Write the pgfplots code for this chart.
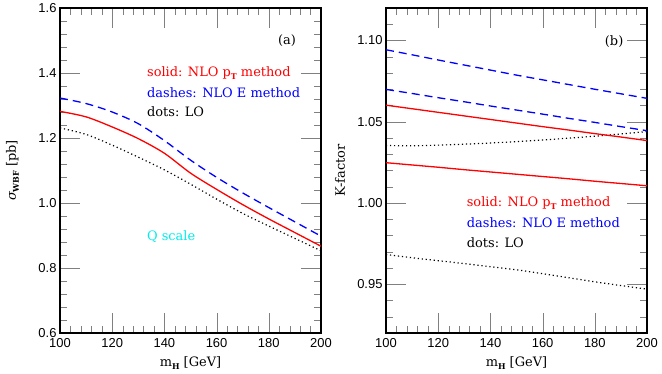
\documentclass[border=0pt]{standalone}
\usepackage{fontspec}
\setmainfont{DejaVu Serif}
\newfontfamily\tickfont{Liberation Sans}
\usepackage{pgfplots}
\usepackage{pgfplotstable}
\pgfplotsset{compat=1.18}
\definecolor{qcyan}{RGB}{0,235,235}
\newcommand\sub[1]{\raisebox{-0.45ex}{\fontsize{8}{8}\selectfont\bfseries #1}}

% sigma_WBF (pb), Q scale
\pgfplotstableread{
m     nlo    e      lo
100   1.282  1.323  1.231
110   1.265  1.306  1.211
120   1.234  1.280  1.178
130   1.198  1.244  1.141
140   1.153  1.192  1.102
150   1.092  1.132  1.058
160   1.042  1.079  1.012
170   0.995  1.031  0.968
180   0.951  0.986  0.929
190   0.909  0.942  0.891
200   0.867  0.898  0.853
}\sigtab

% K-factors, two scale choices each
\pgfplotstableread{
m     nloA   nloB   eA     eB     loA    loB
100   1.0602 1.0248 1.0943 1.0699 1.0354 0.9683
110   1.0580 1.0234 1.0912 1.0674 1.0352 0.9663
120   1.0558 1.0220 1.0880 1.0648 1.0356 0.9645
130   1.0536 1.0205 1.0849 1.0623 1.0362 0.9627
140   1.0514 1.0191 1.0818 1.0597 1.0369 0.9608
150   1.0492 1.0177 1.0787 1.0572 1.0378 0.9589
160   1.0470 1.0163 1.0758 1.0547 1.0388 0.9565
170   1.0449 1.0149 1.0729 1.0521 1.0399 0.9540
180   1.0427 1.0134 1.0700 1.0496 1.0411 0.9515
190   1.0406 1.0120 1.0672 1.0470 1.0425 0.9492
200   1.0384 1.0106 1.0644 1.0445 1.0440 0.9470
}\ktab

\pgfplotsset{
  panel/.style={
    scale only axis, width=261bp, height=325bp,
    xmin=100, xmax=200,
    xtick={100,120,140,160,180,200},
    xticklabels={100,120,140,160,180,200},
    minor x tick num=4,
    xtick pos=both, ytick pos=both,
    major tick length=20bp, minor tick length=7bp,
    axis line style={line width=1.2bp},
    tick label style={font=\fontsize{13}{13}\selectfont\tickfont},
    xticklabel style={yshift=-2bp},
    label style={font=\fontsize{13}{13}\selectfont},
    xlabel={m\sub{H} [GeV]},
    xlabel style={at={(axis description cs:0.5,-0.094)},anchor=center},
  },
  nlo/.style={red,line width=1.3bp,smooth},
  ee/.style={blue,line width=1.3bp,smooth,dash pattern=on 8bp off 5bp},
  lo/.style={black,line width=1.2bp,smooth,dash pattern=on 1.2bp off 2.8bp},
}
\tikzset{txt/.style={font=\fontsize{13}{13}\selectfont,anchor=west,inner sep=0pt}}

\begin{document}
\begin{tikzpicture}
\path (-60bp,-41bp) rectangle (602bp,333bp);

\begin{axis}[panel, at={(0,0)}, anchor=south west,
  ymin=0.6, ymax=1.6,
  ytick={0.6,0.8,1.0,1.2,1.4,1.6},
  yticklabels={0.6,0.8,1.0,1.2,1.4,1.6},
  minor y tick num=4,
  ylabel={{\itshape σ}\sub{WBF} [pb]},
  ylabel style={at={(axis description cs:-0.182,0.5)},anchor=center},
]
\addplot[lo]  table[x=m,y=lo]  {\sigtab};
\addplot[nlo] table[x=m,y=nlo] {\sigtab};
\addplot[ee]  table[x=m,y=e]   {\sigtab};
\node[txt,anchor=center] at (axis cs:187,1.499) {(a)};
\node[txt,red]   at (axis cs:133.3,1.3985) {solid: NLO p\sub{T} method};
\node[txt,blue]  at (axis cs:133.3,1.340) {dashes: NLO E method};
\node[txt,black] at (axis cs:133.3,1.281) {dots: LO};
\node[txt,qcyan] at (axis cs:133.3,0.898) {Q scale};
\end{axis}

\begin{axis}[panel, at={(326bp,0)}, anchor=south west,
  ymin=0.92, ymax=1.12,
  ytick={0.95,1.00,1.05,1.10},
  yticklabels={0.95,1.00,1.05,1.10},
  minor ytick={0.92,0.93,0.94,0.96,0.97,0.98,0.99,1.01,1.02,1.03,1.04,1.06,1.07,1.08,1.09,1.11},
  ylabel={K-factor},
  ylabel style={at={(axis description cs:-0.176,0.5)},anchor=center},
]
\addplot[lo]  table[x=m,y=loA]  {\ktab};
\addplot[lo]  table[x=m,y=loB]  {\ktab};
\addplot[nlo] table[x=m,y=nloA] {\ktab};
\addplot[nlo] table[x=m,y=nloB] {\ktab};
\addplot[ee]  table[x=m,y=eA]   {\ktab};
\addplot[ee]  table[x=m,y=eB]   {\ktab};
\node[txt,anchor=center] at (axis cs:187.4,1.0994) {(b)};
\node[txt,red]   at (axis cs:130.9,0.9998) {solid: NLO p\sub{T} method};
\node[txt,blue]  at (axis cs:130.9,0.9880) {dashes: NLO E method};
\node[txt,black] at (axis cs:130.9,0.9758) {dots: LO};
\end{axis}
\end{tikzpicture}
\end{document}
